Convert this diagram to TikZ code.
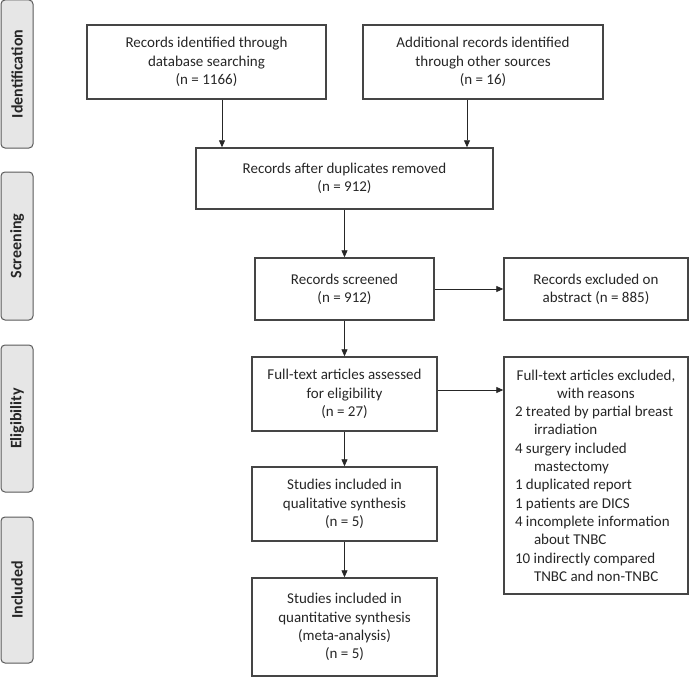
\documentclass[tikz,border=0pt]{standalone}
\usepackage{fontspec}
\setmainfont{Carlito}
\usetikzlibrary{arrows.meta}
\definecolor{edgegray}{HTML}{454545}
\definecolor{textgray}{HTML}{262626}
\definecolor{phasefill}{HTML}{E6E6E6}
\definecolor{phaseline}{HTML}{5A5A5A}

\begin{document}
\begin{tikzpicture}[x=1pt, y=-1pt, font=\fontsize{15pt}{18.3pt}\selectfont,
    plain/.style={rectangle, draw=edgegray, line width=1.4pt, text=textgray, inner sep=0pt},
    box/.style={plain, align=center},
    phase/.style={rectangle, rounded corners=4pt, draw=phaseline, fill=phasefill, line width=1pt,
      minimum height=32pt, rotate=90, text=textgray, font=\fontsize{16pt}{18pt}\selectfont\bfseries},
    flow/.style={-{Triangle[length=7pt,width=6pt]}, line width=0.8pt, draw=black!85}]
  \useasboundingbox (0,0) rectangle (689,677);

  \node (ident) [phase, minimum width=148pt] at (17,74) {Identification};
  \node (screen) [phase, minimum width=148pt] at (17,246) {Screening};
  \node (elig) [phase, minimum width=147pt] at (17,418.5) {Eligibility};
  \node (incl) [phase, minimum width=146pt] at (17,590) {Included};

  \node (db) [box, minimum width=239pt, minimum height=74pt] at (206.5,62)
    {Records identified through\\ database searching\\ (n = 1166)};
  \node (other) [box, minimum width=240pt, minimum height=74pt] at (483,62)
    {Additional records identified\\ through other sources\\ (n = 16)};
  \node (dup) [box, minimum width=297pt, minimum height=61pt] at (344.5,178.5)
    {Records after duplicates removed\\ (n = 912)};
  \node (screened) [box, minimum width=179pt, minimum height=62pt] at (344.5,289)
    {Records screened\\ (n = 912)};
  \node (exabs) [box, minimum width=184pt, minimum height=62pt] at (596,289)
    {Records excluded on\\ abstract (n = 885)};
  \node (exfull) [plain, align=left, minimum width=184pt, minimum height=237pt] at (596,475.5)
    {\makebox[162pt]{Full-text articles excluded,}\\
     \makebox[162pt]{with reasons}\\
     2 treated by partial breast\\
     \makebox[19pt]{}irradiation\\
     4 surgery included\\
     \makebox[19pt]{}mastectomy\\
     1 duplicated report\\
     1 patients are DICS\\
     4 incomplete information\\
     \makebox[19pt]{}about TNBC\\
     10 indirectly compared\\
     \makebox[19pt]{}TNBC and non-TNBC};
  \node (fulltext) [box, minimum width=185pt, minimum height=74pt] at (344.5,394)
    {Full-text articles assessed\\ for eligibility\\ (n = 27)};
  \node (qual) [box, minimum width=185pt, minimum height=74pt] at (344.5,504)
    {Studies included in\\ qualitative synthesis\\ (n = 5)};
  \node (quant) [box, minimum width=185pt, minimum height=98pt] at (344.5,627)
    {Studies included in\\ quantitative synthesis\\ (meta-analysis)\\ (n = 5)};

  \draw [flow] ([xshift=15.5pt]db.south) -- ([xshift=15.5pt]db.south |- dup.north);
  \draw [flow] ([xshift=-16pt]other.south) -- ([xshift=-16pt]other.south |- dup.north);
  \draw [flow] (dup) -- (screened);
  \draw [flow] (screened) -- (exabs);
  \draw [flow] (screened) -- (fulltext);
  \draw [flow] ([yshift=4pt]fulltext.east) -- ([yshift=4pt]fulltext.east -| exfull.west);
  \draw [flow] (fulltext) -- (qual);
  \draw [flow] (qual) -- (quant);
\end{tikzpicture}
\end{document}
